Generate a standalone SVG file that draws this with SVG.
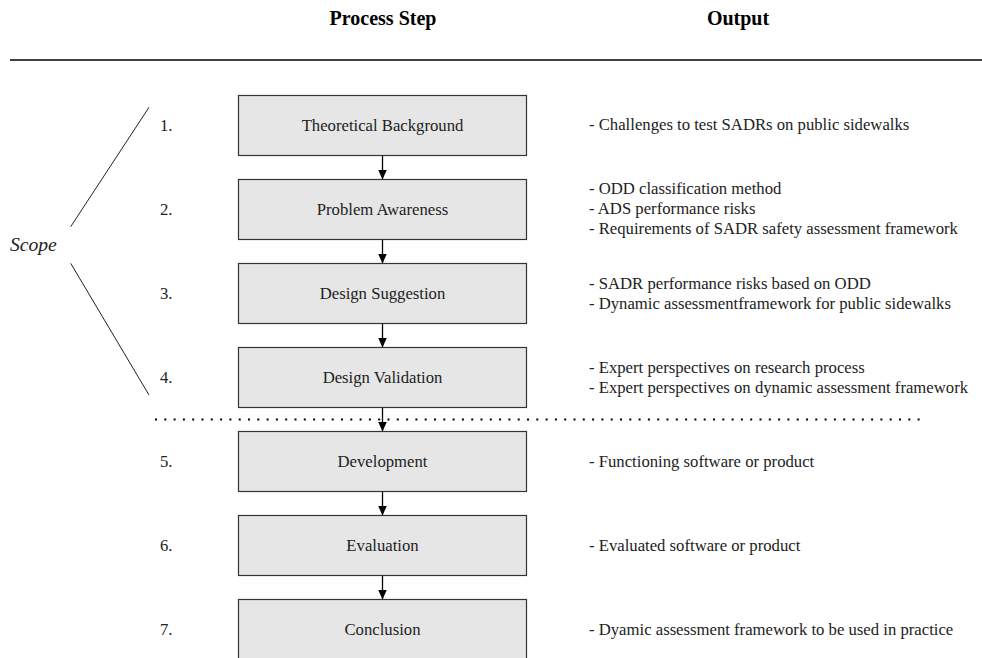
<svg xmlns="http://www.w3.org/2000/svg" width="982" height="658" viewBox="0 0 982 658">
<defs>
<style>
.t{font-family:"Liberation Serif","Times New Roman",serif;fill:#222;font-size:16.7px}
.hd{font-family:"Liberation Serif","Times New Roman",serif;fill:#000;font-size:20px;font-weight:bold;text-anchor:middle}
.sc{font-family:"Liberation Serif","Times New Roman",serif;fill:#222;font-size:19.6px;font-style:italic}
.box{fill:#e6e6e6;stroke:#333;stroke-width:1.2}
.lbl{text-anchor:middle}
.con{stroke:#000;stroke-width:1.3;fill:none;marker-end:url(#ah)}
</style>
<marker id="ah" viewBox="0 0 10 9" refX="10" refY="4.5" markerWidth="10" markerHeight="9" markerUnits="userSpaceOnUse" orient="auto">
<path d="M0,0 L10,4.5 L0,9 z" fill="#000"/>
</marker>
</defs>
<rect width="982" height="658" fill="#fff"/>
<g id="header">
<text class="hd" x="383" y="25">Process Step</text>
<text class="hd" x="738" y="25">Output</text>
<line x1="10" y1="60" x2="982" y2="60" stroke="#000" stroke-width="1.3"/>
</g>
<g id="scope">
<text class="sc" x="10" y="251">Scope</text>
<line x1="70.7" y1="226.7" x2="149" y2="107.3" stroke="#222" stroke-width="1"/>
<line x1="70.7" y1="263.3" x2="149" y2="395" stroke="#222" stroke-width="1"/>
</g>
<line id="divider" x1="155" y1="419.5" x2="920" y2="419.5" stroke="#000" stroke-width="2" stroke-dasharray="2 7.3"/>
<g id="connectors">
<line class="con" x1="382.5" y1="155.5" x2="382.5" y2="179.5"/>
<line class="con" x1="382.5" y1="239.5" x2="382.5" y2="263.5"/>
<line class="con" x1="382.5" y1="323.5" x2="382.5" y2="347.5"/>
<line class="con" x1="382.5" y1="407.5" x2="382.5" y2="431.5"/>
<line class="con" x1="382.5" y1="491.5" x2="382.5" y2="515.5"/>
<line class="con" x1="382.5" y1="575.5" x2="382.5" y2="599.5"/>
</g>
<g id="step1">
<rect class="box" x="238.5" y="95.5" width="288" height="60"/>
<text class="t" x="160" y="131">1.</text>
<text class="t lbl" x="382.5" y="131">Theoretical Background</text>
<text class="t" x="589" y="130">- Challenges to test SADRs on public sidewalks</text>
</g>
<g id="step2">
<rect class="box" x="238.5" y="179.5" width="288" height="60"/>
<text class="t" x="160" y="215">2.</text>
<text class="t lbl" x="382.5" y="215">Problem Awareness</text>
<text class="t" x="589" y="194">- ODD classification method</text>
<text class="t" x="589" y="214">- ADS performance risks</text>
<text class="t" x="589" y="234">- Requirements of SADR safety assessment framework</text>
</g>
<g id="step3">
<rect class="box" x="238.5" y="263.5" width="288" height="60"/>
<text class="t" x="160" y="299">3.</text>
<text class="t lbl" x="382.5" y="299">Design Suggestion</text>
<text class="t" x="589" y="289">- SADR performance risks based on ODD</text>
<text class="t" x="589" y="309">- Dynamic assessmentframework for public sidewalks</text>
</g>
<g id="step4">
<rect class="box" x="238.5" y="347.5" width="288" height="60"/>
<text class="t" x="160" y="383">4.</text>
<text class="t lbl" x="382.5" y="383">Design Validation</text>
<text class="t" x="589" y="373">- Expert perspectives on research process</text>
<text class="t" x="589" y="393">- Expert perspectives on dynamic assessment framework</text>
</g>
<g id="step5">
<rect class="box" x="238.5" y="431.5" width="288" height="60"/>
<text class="t" x="160" y="467">5.</text>
<text class="t lbl" x="382.5" y="467">Development</text>
<text class="t" x="589" y="467">- Functioning software or product</text>
</g>
<g id="step6">
<rect class="box" x="238.5" y="515.5" width="288" height="60"/>
<text class="t" x="160" y="551">6.</text>
<text class="t lbl" x="382.5" y="551">Evaluation</text>
<text class="t" x="589" y="551">- Evaluated software or product</text>
</g>
<g id="step7">
<rect class="box" x="238.5" y="599.5" width="288" height="60"/>
<text class="t" x="160" y="635">7.</text>
<text class="t lbl" x="382.5" y="635">Conclusion</text>
<text class="t" x="589" y="635">- Dyamic assessment framework to be used in practice</text>
</g>
</svg>
